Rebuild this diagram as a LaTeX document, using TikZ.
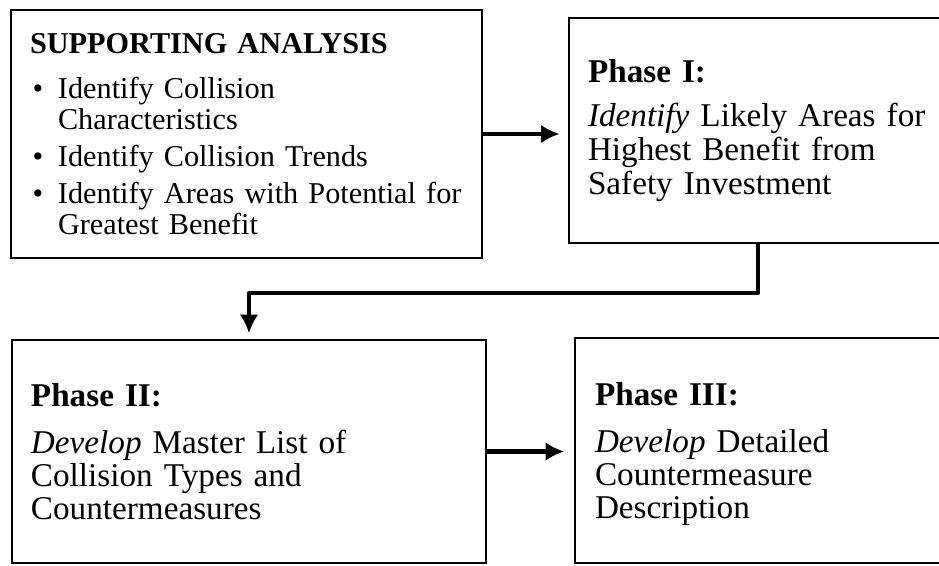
\documentclass[tikz,border=0pt]{standalone}
\usepackage{fontspec}
\setmainfont{Liberation Serif}
\usepackage{tikz}
\usetikzlibrary{arrows.meta}
\usetikzlibrary{positioning}
\tikzset{flow/.style = {line width=3.5pt, line join=round,
                        -{Latex[length=14pt, width=14pt]}}}
\tikzset{box/.style = {draw, line width=2pt, align=left,
                       inner xsep=14.25pt, inner ysep=0pt}}
\newcommand{\blt}{\makebox[21pt][l]{\hspace{2pt}\textbullet}}
\newcommand{\hng}{\hspace*{21pt}}

\begin{document}
\begin{tikzpicture}[x=0.75pt, y=-0.75pt]
    \clip (0, 0) rectangle (939, 566);

    \node [box, minimum width=353.25pt, minimum height=186pt, text width=324.75pt,
           font=\fontsize{22.7pt}{23.25pt}\selectfont] (support) at (246.5, 134)
          {\textbf{SUPPORTING ANALYSIS}\\[10.5pt]
           \blt Identify Collision\\
           \hng Characteristics\\[4.5pt]
           \blt Identify Collision Trends\\[4.5pt]
           \blt Identify Areas with Potential for\\
           \hng Greatest Benefit};
    \node [box, minimum width=300pt, minimum height=168.75pt, text width=271.5pt,
           font=\fontsize{24.9pt}{25.5pt}\selectfont] (phaseone) at (769, 130.5)
          {\textbf{Phase I:}\\[8pt]
           \textit{Identify} Likely Areas for\\
           Highest Benefit from\\
           Safety Investment};
    \node [box, minimum width=355.5pt, minimum height=167.25pt, text width=327pt,
           font=\fontsize{24.9pt}{24.75pt}\selectfont] (phasetwo) at (249, 451.5)
          {\textbf{Phase II:}\\[11pt]
           \textit{Develop} Master List of\\
           Collision Types and\\
           Countermeasures};
    \node [box, minimum width=300pt, minimum height=168.75pt, text width=270pt,
           inner xsep=15pt, font=\fontsize{24.9pt}{24.75pt}\selectfont] (phasethree) at (775, 450.5)
          {\textbf{Phase III:}\\[10pt]
           \textit{Develop} Detailed\\
           Countermeasure\\
           \smash{Description}};

    \coordinate (turn) at (758, 293);
    \draw [flow, shorten >=6pt] (support.east) -- (support.east -| phaseone.west);
    \draw [flow, shorten >=4pt] (turn |- phaseone.south) -- (turn) -| (phasetwo.north);
    \draw [flow, shorten >=7pt] (phasetwo.east) -- (phasetwo.east -| phasethree.west);
\end{tikzpicture}
\end{document}
